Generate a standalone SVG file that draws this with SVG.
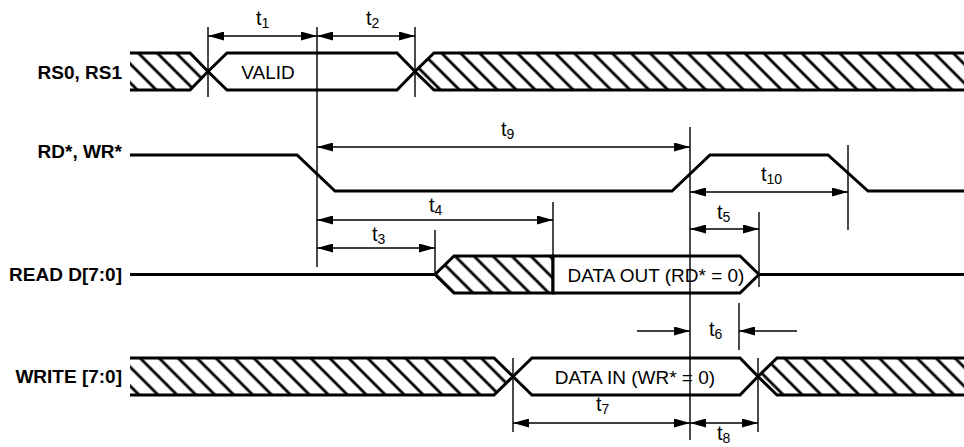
<svg xmlns="http://www.w3.org/2000/svg" width="964" height="447" viewBox="0 0 964 447">
<style>
.sig{fill:none;stroke:#000;stroke-width:3;stroke-linejoin:miter}
.hb{fill:url(#hatch);stroke:#000;stroke-width:3}
.box{fill:#fff;stroke:#000;stroke-width:3}
.ref{stroke:#000;stroke-width:1.4;fill:none}
.dim{stroke:#000;stroke-width:1.4;fill:none;marker-start:url(#arr);marker-end:url(#arr)}
.one{stroke:#000;stroke-width:1.4;fill:none;marker-end:url(#arr)}
.lbl{font-family:"Liberation Sans",Arial,sans-serif;font-weight:bold;font-size:19px;text-anchor:end}
.txt{font-family:"Liberation Sans",Arial,sans-serif;font-size:19px;text-anchor:middle}
.t{font-family:"Liberation Sans",Arial,sans-serif;font-size:20px}
.sub{font-size:14px}
</style>
<defs>
<pattern id="hatch" width="13.4" height="13.4" patternUnits="userSpaceOnUse" patternTransform="rotate(-45)">
<line x1="6.7" y1="-1" x2="6.7" y2="15" stroke="#000" stroke-width="2.8"/>
</pattern>
<marker id="arr" viewBox="0 0 16 9" refX="16" refY="4.5" markerWidth="16" markerHeight="9" markerUnits="userSpaceOnUse" orient="auto-start-reverse">
<path d="M0,0 L16,4.5 L0,9 z" fill="#000"/>
</marker>
</defs>
<rect width="964" height="447" fill="#fff"/>

<g id="rs">
<text class="lbl" x="122" y="79">RS0, RS1</text>
<path d="M130,53 L190,53 L208,71.5 L190,90 L130,90" fill="url(#hatch)" stroke="none"/>
<path class="sig" d="M130,53 L190,53 L208,71.5 L190,90 L130,90"/>
<path class="box" d="M208,71.5 L227,53 L397,53 L415,71.5 L397,90 L227,90 Z"/>
<text class="txt" x="268" y="78.5">VALID</text>
<path d="M415,71.5 L434,53 L966,53 L966,90 L434,90 Z" fill="url(#hatch)" stroke="none"/>
<path class="sig" d="M966,53 L434,53 L415,71.5 L434,90 L966,90"/>
</g>

<g id="rdwr">
<text class="lbl" x="122" y="158">RD*, WR*</text>
<path class="sig" d="M130,155 L297,155 L335,191 L672,191 L710,155 L828,155 L868,191 L964,191"/>
</g>

<g id="read">
<text class="lbl" x="122" y="281">READ D[7:0]</text>
<path class="sig" d="M130,274.5 L435,274.5"/>
<path class="hb" d="M435,274.5 L454,256 L553,256 L553,293 L454,293 Z"/>
<path class="box" d="M553,256 L740,256 L759,274.5 L740,293 L553,293 Z"/>
<text class="txt" x="656" y="281.5">DATA OUT (RD* = 0)</text>
<path class="sig" d="M759,274.5 L964,274.5"/>
</g>

<g id="write">
<text class="lbl" x="122" y="383">WRITE [7:0]</text>
<path d="M130,358 L494,358 L513,376.5 L494,395 L130,395" fill="url(#hatch)" stroke="none"/>
<path class="sig" d="M130,358 L494,358 L513,376.5 L494,395 L130,395"/>
<path class="box" d="M513,376.5 L532,358 L740,358 L758,376.5 L740,395 L532,395 Z"/>
<text class="txt" x="635" y="383.5">DATA IN (WR* = 0)</text>
<path d="M758,376.5 L777,358 L966,358 L966,395 L777,395 Z" fill="url(#hatch)" stroke="none"/>
<path class="sig" d="M966,358 L777,358 L758,376.5 L777,395 L966,395"/>
</g>

<g id="connectors">
<path class="ref" d="M208,27 V97 M317,27 V267 M415,27 V97 M690,127 V440 M848,145 V230 M553,202 V293 M435,230 V275 M759,212 V287 M739,303 V350 M513,358 V432 M758,358 V432"/>
<path class="dim" d="M208,36 H317"/>
<path class="dim" d="M317,36 H415"/>
<path class="dim" d="M317,147 H690"/>
<path class="dim" d="M317,220 H553"/>
<path class="dim" d="M317,248 H435"/>
<path class="dim" d="M690,192 H848"/>
<path class="dim" d="M690,229 H759"/>
<path class="one" d="M637,331 H690"/>
<path class="one" d="M797,331 H739"/>
<path class="dim" d="M513,423 H690"/>
<path class="dim" d="M690,423 H758"/>
</g>

<g id="labels">
<text class="t" x="256" y="25">t<tspan class="sub" dy="3">1</tspan></text>
<text class="t" x="366" y="25">t<tspan class="sub" dy="3">2</tspan></text>
<text class="t" x="501" y="136">t<tspan class="sub" dy="3">9</tspan></text>
<text class="t" x="429" y="212">t<tspan class="sub" dy="3">4</tspan></text>
<text class="t" x="372" y="241">t<tspan class="sub" dy="3">3</tspan></text>
<text class="t" x="761" y="181">t<tspan class="sub" dy="3">10</tspan></text>
<text class="t" x="717" y="219">t<tspan class="sub" dy="3">5</tspan></text>
<text class="t" x="709" y="336">t<tspan class="sub" dy="3">6</tspan></text>
<text class="t" x="596" y="411">t<tspan class="sub" dy="3">7</tspan></text>
<text class="t" x="717" y="440">t<tspan class="sub" dy="3">8</tspan></text>
</g>
</svg>
